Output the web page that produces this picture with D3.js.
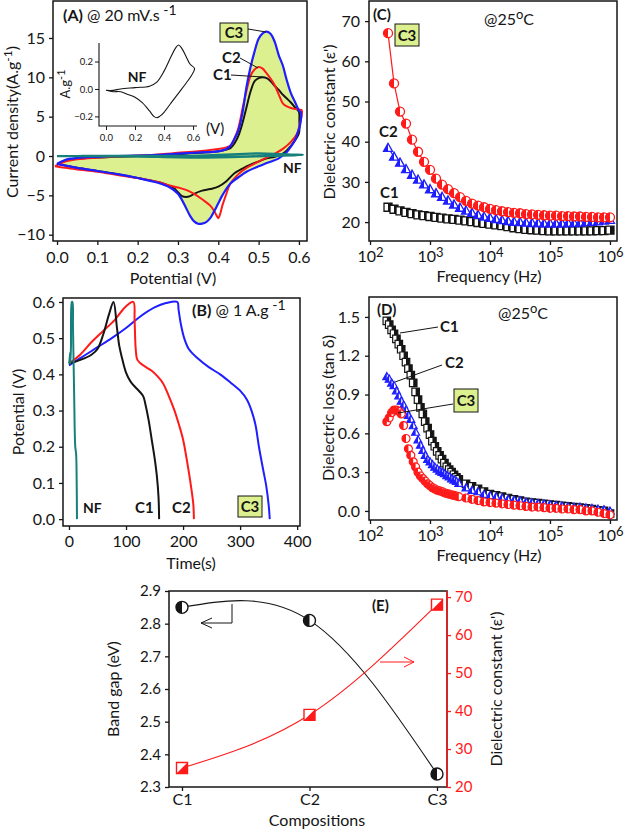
<!DOCTYPE html>
<html>
<head>
<meta charset="utf-8">
<script src="https://cdn.jsdelivr.net/npm/d3@7"></script>
<style>
body{margin:0;background:#fff}
svg{font-family:Lato,"Liberation Sans",sans-serif}
</style>
</head>
<body>
<svg id="fig" width="627" height="830"></svg>
<script>
// ---------- data ----------
// (A) CV loops at 20 mV/s : [potential V, current A/g]
const cvC1 = [[0,-1.0],[0.02,-0.6],[0.05,-0.35],[0.1,-0.2],[0.15,-0.1],[0.2,0],[0.25,0.1],[0.3,0.25],[0.35,0.4],[0.4,0.6],[0.43,1.0],[0.44,1.6],[0.45,2.6],[0.46,4.2],[0.47,6.2],[0.48,8.2],[0.49,9.5],[0.5,9.9],[0.51,10],[0.52,9.9],[0.53,9.5],[0.54,8.9],[0.55,8.4],[0.56,7.8],[0.57,7.3],[0.58,6.8],[0.59,6.2],[0.6,5.6],
  [0.601,4.5],[0.6,2.9],[0.585,1.6],[0.57,0.7],[0.56,0.3],[0.54,-0.1],[0.52,-0.3],[0.5,-0.7],[0.48,-1.1],[0.46,-1.6],[0.44,-2.2],[0.42,-3.2],[0.4,-3.9],[0.38,-4.2],[0.36,-4.4],[0.34,-4.8],[0.33,-5.1],[0.32,-5.2],[0.31,-5.1],[0.3,-4.6],[0.29,-4.1],[0.27,-3.6],[0.25,-3.3],[0.2,-2.8],[0.15,-2.3],[0.1,-1.9],[0.05,-1.5],[0.02,-1.2],[0,-1.0]]
const cvC2 = [[-0.005,-1.3],[0.02,-0.7],[0.05,-0.4],[0.1,-0.2],[0.15,-0.05],[0.2,0.05],[0.25,0.2],[0.3,0.4],[0.35,0.6],[0.4,0.9],[0.42,1.1],[0.43,1.3],[0.44,2.2],[0.45,3.6],[0.46,6],[0.47,8.3],[0.48,10.2],[0.49,11],[0.5,11.3],[0.51,11.1],[0.52,10.5],[0.53,9.8],[0.54,9],[0.55,7.8],[0.56,6.7],[0.57,6.3],[0.58,6.1],[0.6,5.9],[0.607,5.8],
  [0.603,4.2],[0.595,2.8],[0.58,1.8],[0.56,0.9],[0.54,0.3],[0.52,-0.2],[0.5,-0.7],[0.47,-1.5],[0.45,-2.3],[0.43,-3.5],[0.42,-4.8],[0.41,-6.3],[0.405,-7.3],[0.4,-7.9],[0.395,-7.5],[0.39,-7],[0.38,-6.3],[0.36,-5.5],[0.34,-4.8],[0.32,-4.3],[0.3,-4],[0.27,-3.6],[0.25,-3.3],[0.2,-2.8],[0.15,-2.4],[0.1,-2],[0.05,-1.7],[0.02,-1.5],[-0.005,-1.3]]
const cvC3 = [[0,-1.0],[0.02,-0.5],[0.05,-0.25],[0.1,-0.1],[0.15,0],[0.2,0.05],[0.25,0.15],[0.3,0.3],[0.35,0.45],[0.4,0.6],[0.42,0.9],[0.43,1.3],[0.44,2.2],[0.45,3.3],[0.46,5.5],[0.47,8.8],[0.48,11.3],[0.49,13.3],[0.5,14.9],[0.51,15.6],[0.52,15.8],[0.53,15.5],[0.54,14.5],[0.55,12.8],[0.56,11.5],[0.57,9.6],[0.58,8],[0.59,6.9],[0.6,5.8],[0.605,5.5],
  [0.603,4],[0.597,3],[0.59,2],[0.58,1.2],[0.57,0.5],[0.55,-0.3],[0.52,-0.9],[0.5,-1.3],[0.47,-2],[0.45,-2.7],[0.43,-3.5],[0.41,-5],[0.4,-6],[0.39,-7],[0.38,-7.9],[0.37,-8.4],[0.36,-8.6],[0.35,-8.6],[0.34,-8.3],[0.33,-7.6],[0.32,-6.6],[0.31,-5.6],[0.3,-4.8],[0.28,-4],[0.25,-3.4],[0.2,-2.8],[0.15,-2.3],[0.1,-1.9],[0.05,-1.5],[0.02,-1.2],[0,-1.0]]
// bare nickel foam (also shown in the inset)
const cvNF = [[0.0,-0.01],[0.05,-0.01],[0.1,0.0],[0.2,0.01],[0.3,0.02],[0.35,0.05],[0.4,0.13],[0.45,0.24],[0.48,0.3],[0.5,0.32],[0.52,0.3],[0.55,0.24],[0.58,0.18],[0.61,0.15],
  [0.59,0.1],[0.55,0.04],[0.5,-0.03],[0.45,-0.1],[0.4,-0.17],[0.37,-0.2],[0.35,-0.21],[0.33,-0.2],[0.3,-0.16],[0.25,-0.1],[0.2,-0.06],[0.15,-0.04],[0.1,-0.02],[0.05,-0.02],[0.0,-0.01]]

// (B) GCD at 1 A/g : [time s, potential V]
const gcdNF = [[0,0.43],[1,0.44],[2,0.46],[2.5,0.43],[3.5,0.48],[5,0.6],[6,0.6],[7,0.53],[9,0.35],[11,0.2],[12.5,0.18],[13.5,0.1],[14,0.0]]
const gcdC1 = [[0,0.43],[20,0.44],[40,0.455],[50,0.47],[60,0.51],[70,0.565],[78,0.6],[84,0.53],[88,0.48],[93,0.445],[100,0.405],[108,0.38],[116,0.365],[124,0.352],[130,0.34],[135,0.31],[140,0.27],[145,0.22],[150,0.17],[154,0.12],[157,0.06],[158,0.0]]
const gcdC2 = [[0,0.43],[20,0.455],[40,0.49],[60,0.52],[80,0.55],[95,0.58],[105,0.595],[113,0.6],[115,0.55],[117,0.47],[120,0.44],[130,0.425],[145,0.41],[155,0.395],[165,0.375],[175,0.34],[185,0.3],[193,0.26],[200,0.22],[208,0.15],[214,0.09],[218,0.04],[219,0.0]]
const gcdC3 = [[0,0.425],[25,0.45],[50,0.475],[75,0.5],[100,0.528],[125,0.56],[150,0.585],[170,0.597],[190,0.6],[192,0.58],[196,0.54],[202,0.5],[210,0.47],[225,0.445],[245,0.42],[265,0.4],[285,0.375],[300,0.355],[312,0.33],[320,0.3],[327,0.26],[333,0.2],[340,0.14],[346,0.09],[350,0.04],[352,0.0]]

// (C) frequency exponents (f = 10^e Hz) and dielectric constant
const freqExp = [2.3,2.4,2.5,2.6,2.7,2.8,2.9,3.0,3.1,3.2,3.3,3.4,3.5,3.6,3.7,3.8,3.9,4.0,4.1,4.2,4.3,4.4,4.5,4.6,4.7,4.8,4.9,5.0,5.1,5.2,5.3,5.4,5.5,5.6,5.7,5.8,5.9,6.0]
const epsC1 = [23.7,23.2,22.8,22.4,22.1,21.8,21.6,21.4,21.2,21.0,20.8,20.7,20.5,20.3,20.1,19.9,19.7,19.5,19.3,19.1,18.9,18.6,18.4,18.2,18.1,18.0,17.9,17.8,17.8,17.8,17.8,17.8,17.8,17.8,17.8,17.9,17.9,18.0]
const epsC2 = [38.5,36.3,34.8,33.2,31.8,30.6,29.4,28.2,27.2,26.3,25.4,24.4,23.6,22.9,22.3,21.8,21.4,21.1,20.8,20.5,20.3,20.1,20.0,19.9,19.8,19.8,19.7,19.7,19.7,19.7,19.8,19.8,19.9,20.0,20.1,20.2,20.4,20.6]
const epsC3 = [67,54.5,47.5,44.5,40.5,37.5,35,33,30.8,29.3,28.2,27.2,26.2,25.3,24.6,24.1,23.7,23.3,23.0,22.7,22.5,22.3,22.2,22.0,21.9,21.8,21.7,21.6,21.6,21.5,21.5,21.4,21.4,21.3,21.3,21.2,21.2,21.2]

// (D) denser frequency exponents and tan delta
const freqExpD = [2.28,2.32,2.36,2.40,2.44,2.48,2.52,2.56,2.60,2.64,2.68,2.72,2.76,2.80,2.84,2.88,2.92,2.96,3.00,3.04,3.08,3.12,3.16,3.20,3.24,3.28,3.32,3.36,3.40,3.44,3.48,
  3.6,3.7,3.8,3.9,4.0,4.1,4.2,4.3,4.4,4.5,4.6,4.7,4.8,4.9,5.0,5.1,5.2,5.3,5.4,5.5,5.6,5.7,5.8,5.9,6.0]
const lossC1 = [1.47,1.44,1.40,1.37,1.33,1.29,1.25,1.20,1.15,1.10,1.05,0.99,0.92,0.86,0.80,0.75,0.69,0.64,0.59,0.54,0.50,0.46,0.43,0.40,0.37,0.34,0.32,0.30,0.28,0.26,0.245,
  0.21,0.19,0.17,0.15,0.13,0.12,0.11,0.10,0.09,0.08,0.07,0.065,0.06,0.055,0.05,0.045,0.04,0.035,0.03,0.025,0.02,0.015,0.005,0.0,-0.02]
const lossC2 = [1.04,1.02,0.99,0.97,0.93,0.89,0.85,0.82,0.78,0.74,0.71,0.66,0.61,0.55,0.51,0.47,0.43,0.40,0.38,0.36,0.34,0.325,0.31,0.30,0.29,0.275,0.265,0.25,0.24,0.23,0.215,
  0.18,0.16,0.15,0.13,0.12,0.11,0.10,0.09,0.085,0.08,0.07,0.065,0.06,0.055,0.05,0.045,0.04,0.035,0.03,0.03,0.025,0.02,0.015,0.01,0.0]
const lossC3 = [0.69,0.72,0.76,0.78,0.78,0.77,0.75,0.66,0.56,0.48,0.43,0.38,0.34,0.30,0.27,0.25,0.23,0.21,0.195,0.18,0.17,0.16,0.155,0.15,0.14,0.135,0.13,0.125,0.12,0.115,0.11,
  0.10,0.09,0.08,0.07,0.065,0.06,0.055,0.05,0.045,0.04,0.035,0.03,0.03,0.025,0.02,0.02,0.015,0.015,0.01,0.01,0.0,0.0,-0.01,-0.02,-0.03]

// (E)
const compositions = ['C1','C2','C3']
const bandGap = [2.85,2.81,2.34]
const dielectricE = [25,39,68]

// tick labels
const ticksAx = [0,0.1,0.2,0.3,0.4,0.5,0.6]
const ticksAy = [-10,-5,0,5,10,15]
const ticksInsetX = [0,0.2,0.4,0.6]
const ticksInsetY = [-0.2,0,0.2]
const ticksBx = [0,100,200,300,400]
const ticksBy = [0,0.1,0.2,0.3,0.4,0.5,0.6]
const ticksFreq = [1e2,1e3,1e4,1e5,1e6]
const ticksCy = [20,30,40,50,60,70]
const ticksDy = [0,0.3,0.6,0.9,1.2,1.5]
const ticksEl = [2.3,2.4,2.5,2.6,2.7,2.8,2.9]
const ticksEr = [20,30,40,50,60,70]

// ---------- helpers ----------
const ink = '#151515'
const red = '#ff1a1a'
const blue = '#1e1eff'
const teal = '#17807c'
const lime = '#dcf08f'
const svg = d3.select('#fig')

function frame(x0,y0,x1,y1){
    svg.append('rect').attr('x',x0).attr('y',y0).attr('width',x1-x0).attr('height',y1-y0)
       .attr('fill','none').attr('stroke',ink).attr('stroke-width',1.5)
}

function styleAxis(g,color,size){
    g.select('.domain').remove()
    g.selectAll('line').attr('stroke',color).attr('stroke-width',1.3)
    g.selectAll('text').attr('fill',color).style('font-size',size+'px').style('font-family','Lato')
    return g
}

function axis(kind,scale,pos,ticks,fmt,pad,color,size){
    const gen = kind(scale).tickValues(ticks).tickSize(4).tickSizeOuter(0).tickPadding(pad)
    if(fmt) gen.tickFormat(fmt)
    const horiz = (kind===d3.axisBottom)
    const g = svg.append('g').attr('transform', horiz ? `translate(0,${pos})` : `translate(${pos},0)`).call(gen)
    return styleAxis(g,color||ink,size||15)
}

// text with optional superscript / bold parts
function rich(x,y,parts,opt){
    opt = opt || {}
    const t = svg.append('text').attr('fill',opt.fill||ink).style('font-size',(opt.size||16)+'px')
        .attr('text-anchor',opt.anchor||'start')
    if(opt.rotate) t.attr('transform',`translate(${x},${y}) rotate(-90)`)
    else t.attr('x',x).attr('y',y)
    let lift = 0
    parts.forEach(p => {
        const s = t.append('tspan').text(p.t)
        if(p.sup){ s.attr('dy',-p.sup-lift).style('font-size',(p.size||12)+'px'); lift = p.sup }
        else if(lift){ s.attr('dy',lift); lift = 0 }
        if(p.b) s.style('font-weight','bold')
    })
    return t
}

function boxLabel(x,y,w,h,txt){
    svg.append('rect').attr('x',x).attr('y',y).attr('width',w).attr('height',h)
       .attr('fill',lime).attr('stroke',ink).attr('stroke-width',1)
    svg.append('text').attr('x',x+w/2).attr('y',y+h/2+5.5).attr('text-anchor','middle')
       .style('font-size','15px').style('font-weight','bold').attr('fill',ink).text(txt)
}

function leader(pts,color){
    svg.append('path').attr('d',d3.line()(pts)).attr('fill','none')
       .attr('stroke',color||ink).attr('stroke-width',1)
}

// half-filled markers
function marker(g,type,x,y,s,color,sw){
    const h = s/2
    let full, half
    if(type==='square'){
        full = `M${-h},${-h}H${h}V${h}H${-h}Z`
        half = `M0,${-h}H${h}V${h}H0Z`
    } else if(type==='circle'){
        full = `M0,${-h}A${h},${h} 0 1 1 0,${h}A${h},${h} 0 1 1 0,${-h}Z`
        half = `M0,${-h}A${h},${h} 0 0 0 0,${h}Z`
    } else if(type==='triangle'){
        full = `M0,${-h}L${h},${h*0.8}H${-h}Z`
        half = `M0,${-h}V${h*0.8}H${-h}Z`
    } else { // diagonal square
        full = `M${-h},${-h}H${h}V${h}H${-h}Z`
        half = `M${h},${-h}V${h}H${-h}Z`
    }
    const m = g.append('g').attr('transform',`translate(${x},${y})`)
    m.append('path').attr('d',full).attr('fill','#fff').attr('stroke',color).attr('stroke-width',sw||1.3)
    m.append('path').attr('d',half).attr('fill',color)
}

const smooth = d3.curveCatmullRom.alpha(0.5)

// ---------- (A) CV ----------
const xA = d3.scaleLinear([-0.01,0.62],[53,307])
const yA = d3.scaleLinear([-10.8,19.7],[241,1])
const lineA = d3.line().x(d=>xA(d[0])).y(d=>yA(d[1])).curve(smooth)

svg.append('path').attr('d',lineA(cvC3)+'Z').attr('fill',lime)
svg.append('path').attr('d',lineA(cvC1)).attr('fill','none').attr('stroke',ink).attr('stroke-width',2)
svg.append('path').attr('d',lineA(cvC2)).attr('fill','none').attr('stroke',red).attr('stroke-width',2)
svg.append('path').attr('d',lineA(cvC3)).attr('fill','none').attr('stroke',blue).attr('stroke-width',2.2)
svg.append('path').attr('d',lineA(cvNF)).attr('fill','none').attr('stroke',teal).attr('stroke-width',2.4)
frame(53,1,307,241)
axis(d3.axisLeft,yA,53,ticksAy,d3.format('d'),4,ink,16)
axis(d3.axisBottom,xA,241,ticksAx,d3.format('.1f'),7,ink,16)
rich(18,122,[{t:'Current density(A.g'},{t:'-1',sup:6},{t:')'}],{rotate:true,anchor:'middle',size:16})
rich(173,284,[{t:'Potential (V)'}],{anchor:'middle',size:16})
rich(63,21,[{t:'(A)',b:true},{t:'  @ 20 mV.s'},{t:' -1',sup:6,size:14}],{size:16})

// inset
const xI = d3.scaleLinear([-0.048,0.627],[99,197])
const yI = d3.scaleLinear([-0.27,0.335],[126,43])
svg.append('path').attr('d',d3.line().x(d=>xI(d[0])).y(d=>yI(d[1])).curve(smooth)(cvNF))
   .attr('fill','none').attr('stroke',ink).attr('stroke-width',1.1)
svg.append('path').attr('d','M99,43V126H197').attr('fill','none').attr('stroke',ink).attr('stroke-width',1.1)
axis(d3.axisLeft,yI,99,ticksInsetY,d3.format('.1f'),2,ink,9.5).selectAll('line').attr('stroke-width',1)
axis(d3.axisBottom,xI,126,ticksInsetX,d3.format('.1f'),4,ink,9.5).selectAll('line').attr('stroke-width',1)
rich(206,134,[{t:'(V)'}],{size:15})
rich(70,84,[{t:'A.g'},{t:'-1',sup:5,size:11}],{rotate:true,anchor:'middle',size:13})
rich(137,82,[{t:'NF',b:true}],{anchor:'middle',size:14})

boxLabel(220,23,28,19,'C3')
leader([[248,29],[266,32]])
rich(222,63,[{t:'C2',b:true}],{size:15})
leader([[240,58],[258,68]])
rich(213,80,[{t:'C1',b:true}],{size:15})
leader([[231,75],[263,77]])
rich(283,173,[{t:'NF',b:true}],{size:14})

// ---------- (B) GCD ----------
const xB = d3.scaleLinear([-10.5,405],[63,300])
const yB = d3.scaleLinear([-0.019,0.611],[526,298])
const lineB = d3.line().x(d=>xB(d[0])).y(d=>yB(d[1])).curve(smooth)
const gcdSeries = [[gcdC3,blue],[gcdC2,red],[gcdC1,ink],[gcdNF,teal]]
gcdSeries.forEach(s => {
    svg.append('path').attr('d',lineB(s[0])).attr('fill','none').attr('stroke',s[1]).attr('stroke-width',2)
})
frame(63,298,300,526)
axis(d3.axisLeft,yB,63,ticksBy,d3.format('.1f'),4,ink,16)
axis(d3.axisBottom,xB,526,ticksBx,d3.format('d'),6,ink,16)
rich(24,412,[{t:'Potential (V)'}],{rotate:true,anchor:'middle',size:16})
rich(191,569,[{t:'Time(s)'}],{anchor:'middle',size:16})
rich(192,316,[{t:'(B)',b:true},{t:' @ 1 A.g'},{t:' -1',sup:6,size:14}],{size:16})
rich(83,513,[{t:'NF',b:true}],{size:14})
rich(135,513,[{t:'C1',b:true}],{size:15})
rich(172,513,[{t:'C2',b:true}],{size:15})
boxLabel(238,496,24,21,'C3')

// ---------- (C) dielectric constant ----------
const xF = d3.scaleLog([Math.pow(10,1.983),Math.pow(10,6.117)],[369,617])
const yC = d3.scaleLinear([15.3,75],[241,1])
const freqs = freqExp.map(e => Math.pow(10,e))
const freqsD = freqExpD.map(e => Math.pow(10,e))

function logAxis(pos){
    const g = axis(d3.axisBottom,xF,pos,ticksFreq,()=>'',6,ink,16)
    g.selectAll('.tick text').each(function(d){
        const t = d3.select(this)
        t.text('10')
        t.append('tspan').attr('dy','-0.45em').style('font-size','13px').text(Math.round(Math.log10(d)))
    })
}

const gC = svg.append('g')
const lineC = d3.line().x((d,i)=>xF(freqs[i])).y(d=>yC(d))
gC.append('path').attr('d',lineC(epsC3)).attr('fill','none').attr('stroke',red).attr('stroke-width',1.2)
gC.append('path').attr('d',lineC(epsC2)).attr('fill','none').attr('stroke',blue).attr('stroke-width',1.2)
epsC1.forEach((v,i)=>marker(gC,'square',xF(freqs[i]),yC(v),8,ink))
epsC2.forEach((v,i)=>marker(gC,'triangle',xF(freqs[i]),yC(v),9,blue))
epsC3.forEach((v,i)=>marker(gC,'circle',xF(freqs[i]),yC(v),9,red))
frame(369,1,617,241)
axis(d3.axisLeft,yC,369,ticksCy,d3.format('d'),5,ink,16)
logAxis(241)
rich(335,122,[{t:"Dielectric constant (ε')"}],{rotate:true,anchor:'middle',size:16})
rich(489,282,[{t:'Frequency (Hz)'}],{anchor:'middle',size:16})
rich(373,20,[{t:'(C)',b:true}],{size:15})
rich(484,25,[{t:'@25'},{t:'o',sup:6,size:13},{t:'C'}],{size:16})
boxLabel(395,24,24,22,'C3')
rich(379,137,[{t:'C2',b:true}],{size:15})
rich(380,198,[{t:'C1',b:true}],{size:15})

// ---------- (D) dielectric loss ----------
const yD = d3.scaleLinear([-0.07,1.654],[520,297])
const gD = svg.append('g')
lossC1.forEach((v,i)=>marker(gD,'square',xF(freqsD[i]),yD(v),7.5,ink,1.2))
lossC2.forEach((v,i)=>marker(gD,'triangle',xF(freqsD[i]),yD(v),8,blue,1.2))
lossC3.forEach((v,i)=>marker(gD,'circle',xF(freqsD[i]),yD(v),8,red,1.2))
frame(369,297,617,520)
axis(d3.axisLeft,yD,369,ticksDy,d3.format('.1f'),5,ink,16)
logAxis(520)
rich(334,408,[{t:'Dielectric loss (tan δ)'}],{rotate:true,anchor:'middle',size:16})
rich(489,561,[{t:'Frequency (Hz)'}],{anchor:'middle',size:16})
rich(377,315,[{t:'(D)',b:true}],{size:15})
rich(498,319,[{t:'@25'},{t:'o',sup:6,size:13},{t:'C'}],{size:16})
rich(440,332,[{t:'C1',b:true}],{size:15})
leader([[400,333],[438,327]])
rich(445,368,[{t:'C2',b:true}],{size:15})
leader([[395,382],[442,365]])
boxLabel(454,389,24,23,'C3')
leader([[398,413],[453,404]])

// ---------- (E) band gap & dielectric constant ----------
const xE = d3.scalePoint(compositions,[182,437])
const yEl = d3.scaleLinear([2.3,2.9],[787,591])
const yEr = d3.scaleLinear([20,71.6],[787,591])
const gE = svg.append('g')
gE.append('path').attr('d',d3.line().x((d,i)=>xE(compositions[i])).y(d=>yEl(d)).curve(d3.curveNatural)(bandGap))
  .attr('fill','none').attr('stroke',ink).attr('stroke-width',1.1)
gE.append('path').attr('d',d3.line().x((d,i)=>xE(compositions[i])).y(d=>yEr(d)).curve(d3.curveNatural)(dielectricE))
  .attr('fill','none').attr('stroke',red).attr('stroke-width',1.1)
bandGap.forEach((v,i)=>marker(gE,'circle',xE(compositions[i]),yEl(v),12,ink,1.4))
dielectricE.forEach((v,i)=>marker(gE,'diag',xE(compositions[i]),yEr(v),11,red,1.4))
frame(169,591,447,787)
svg.append('line').attr('x1',447).attr('x2',447).attr('y1',591).attr('y2',787).attr('stroke',red).attr('stroke-width',1.5)
axis(d3.axisLeft,yEl,169,ticksEl,d3.format('.1f'),4,ink,15)
axis(d3.axisRight,yEr,447,ticksEr,d3.format('d'),4,red,15)
axis(d3.axisBottom,xE,787,compositions,null,3,ink,16)
rich(119,689,[{t:'Band gap (eV)'}],{rotate:true,anchor:'middle',size:16})
rich(502,689,[{t:"Dielectric constant (ε')"}],{rotate:true,anchor:'middle',size:16})
rich(317,826,[{t:'Compositions'}],{anchor:'middle',size:16})
rich(372,611,[{t:'(E)',b:true}],{size:15})
leader([[232,604],[232,623],[201,623]])
leader([[212,618],[201,623],[212,628]])
leader([[380,662],[414,662]],red)
leader([[404,657],[414,662],[404,667]],red)
</script>
</body>
</html>
